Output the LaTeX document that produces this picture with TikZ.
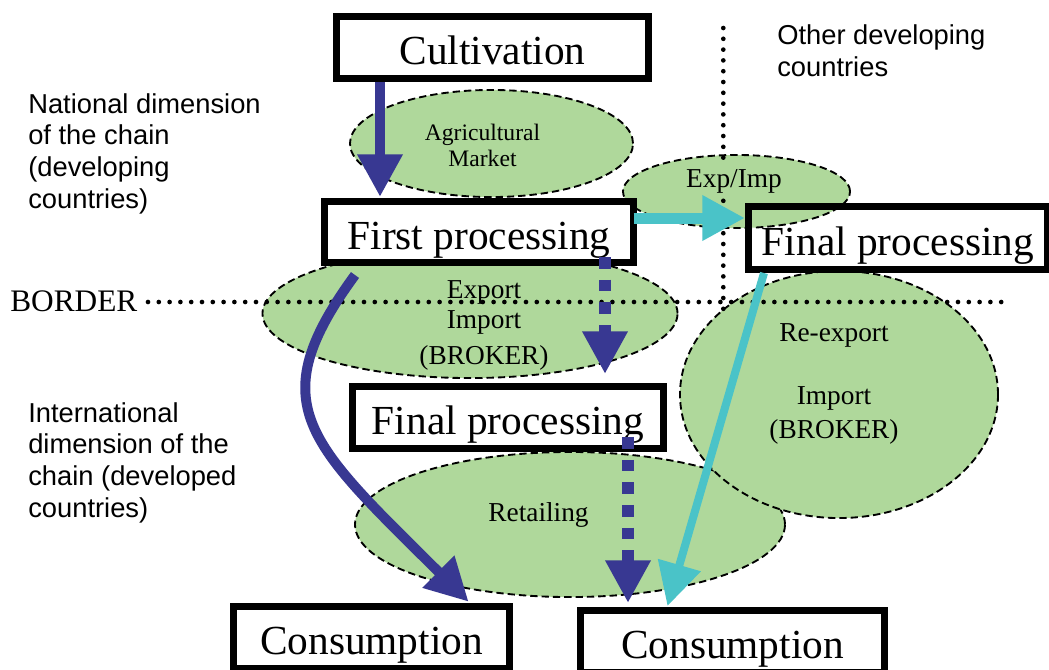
\documentclass[tikz,border=0pt]{standalone}
\usepackage{fontspec}
\setmainfont{Liberation Serif}
\setsansfont{Liberation Sans}
\usetikzlibrary{shapes.geometric,arrows.meta,calc}
\definecolor{zonegreen}{RGB}{175,216,155}
\definecolor{flowblue}{RGB}{56,56,146}
\definecolor{flowcyan}{RGB}{74,195,200}

\begin{document}
\begin{tikzpicture}[x=0.75pt,y=-0.75pt,
  frame/.style={draw=black, line width=5pt, fill=white, inner sep=0pt, outer sep=0pt,
    font=\fontsize{31}{36}\selectfont, text height=26pt, text depth=0pt},
  frameline/.style={draw=black, line width=5pt},
  zone/.style={ellipse, draw=black, fill=zonegreen, line width=1.4pt,
    dash pattern=on 5.5pt off 3pt, inner sep=0pt},
  zonetext/.style={align=center, inner sep=0pt, font=\fontsize{20.5}{25}\selectfont},
  sidetext/.style={align=left, inner sep=0pt, font=\sffamily\fontsize{20.5}{23.7}\selectfont},
  dotline/.style={line width=3.5pt, line cap=round, dash pattern=on 0pt off 8.1pt},
  tiphead/.style={-{Triangle[length=32pt,width=32pt]}},
  solidflow/.style={tiphead, draw=flowblue, line width=8pt},
  dashflow/.style={tiphead, draw=flowblue, line width=9pt, dash pattern=on 8.8pt off 8.2pt},
  cyanflow/.style={tiphead, draw=flowcyan, line width=8.25pt}
]
% canvas
\path[use as bounding box, fill=white] (0,0) rectangle (1049,669);

% market zones
\node[zone, minimum width=322.5pt, minimum height=108.8pt] (retail) at (570,524.5) {};
\node[zone, minimum width=238.5pt, minimum height=185.3pt] (reexp) at (839,394.5) {};
\node[zone, minimum width=311.3pt, minimum height=96.8pt] (broker) at (470,313.5) {};
\node[zone, minimum width=212.3pt, minimum height=80.3pt] (agri) at (491.5,143.5) {};

% chain stages
\node[frame, minimum width=234.3pt, minimum height=46.8pt] (cult) at (492.5,47.5) {Cultivation};
\node[frame, minimum width=232pt, minimum height=46pt] (first) at (479,232) {First processing};
\node[frame, minimum width=233.5pt, minimum height=46.7pt] (fpm) at (508,417.5) {Final processing};
\node[frame, minimum width=207.2pt, minimum height=46.7pt] (consL) at (371.5,637.5) {Consumption};
\node[frame, minimum width=228.2pt, minimum height=46.7pt] (consR) at (732.5,641.5) {Consumption};
\node[frame, minimum width=224.5pt, minimum height=47.5pt] (fpr) at (898,238) {Final processing};

% export/import zone between the two processing stages
\node[zone, minimum width=170.3pt, minimum height=54.8pt] (xport) at (736.5,191.5) {};
\draw[frameline] (first.south west) rectangle (first.north east);
\draw[frameline] (fpr.south west) rectangle (fpr.north east);

% border and country split
\coordinate (borderL) at (148,302);
\coordinate (borderR) at (1010,302);
\coordinate (splitT) at (723.3,28);
\coordinate (splitB) at (723.3,310);
\draw[dotline] (borderL) -- (borderR);
\draw[dotline] (splitT) -- (splitB);

% zone labels (multi-line nodes sit on the baseline of their last line)
\node[zonetext, font=\fontsize{17.7}{20}\selectfont, anchor=base] (agritxt) at (482.5,166.7) {Agricultural\\Market};
\node[zonetext, anchor=base, fill=zonegreen, inner sep=3pt] (xporttxt) at (734,187.7) {Exp/Imp};
\node[zonetext, anchor=base, font=\fontsize{20.5}{22.5}\selectfont] (brokertxt) at (484,364) {Export\\Import\\[4.5pt](BROKER)};
\node[zonetext, anchor=base] (reexptxt) at (834,438.3) {Re-export\\[22.5pt]Import\\(BROKER)};
\node[zonetext, anchor=base] (retailtxt) at (538.5,521.7) {Retailing};

% side labels
\node[sidetext, anchor=base west] (national) at (28,208) {National dimension\\of the chain\\(developing\\countries)};
\node[sidetext, anchor=base west] (intl) at (28,517) {International\\dimension of the\\chain (developed\\countries)};
\node[sidetext, anchor=base west] (others) at (777,76) {Other developing\\countries};
\node[anchor=base west, inner sep=0pt, font=\fontsize{23.5}{28}\selectfont] (borderlbl) at (10,311) {BORDER};

% flows
\draw[solidflow] ($(cult.south)+(-112.5,3.3)$) -- ($(first.north)+(-99,-4.35)$);
\draw[solidflow, line width=7.5pt] ($(first.south)+(-124,12.35)$)
  .. controls (260,405) and (308,442) .. ($(consL.north)+(97.1,-4.65)$);
\draw[dashflow] ($(first.south)+(126,-5.65)$) -- ($(fpm.north)+(97,-12.35)$);
\draw[dashflow] ($(fpm.south)+(120,-11.65)$) -- ($(consR.north)+(-104.5,-7.35)$);
\draw[cyanflow] ($(first.east)+(0,-14)$) -- ($(fpr.west)+(-3.35,-20)$);
\draw[cyanflow, line width=6pt] ($(fpr.south)+(-134,3.35)$) -- ($(consR.north)+(-65,-4.35)$);
\end{tikzpicture}
\end{document}
